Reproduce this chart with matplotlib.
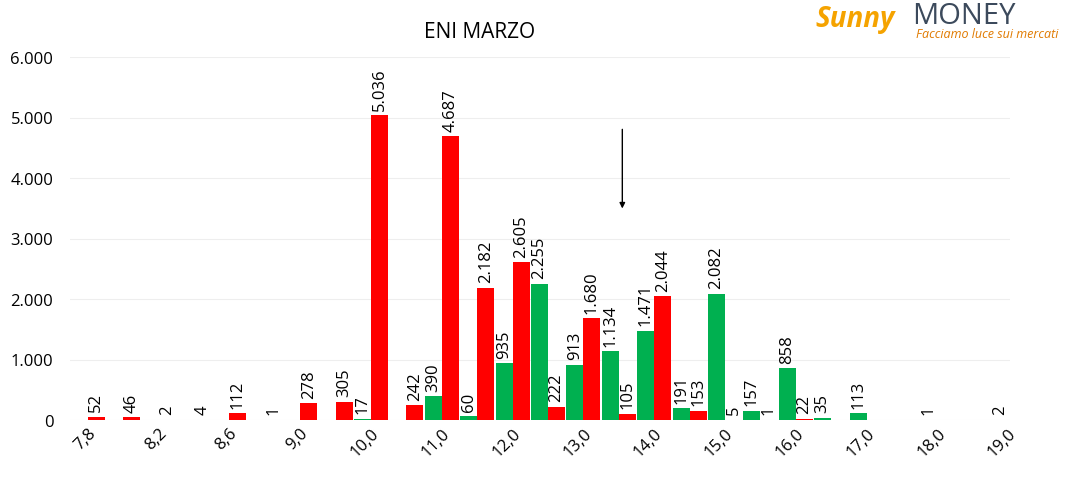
import matplotlib
matplotlib.use("Agg")
import matplotlib.pyplot as plt
import numpy as np

strikes = ["7,8","8,0","8,2","8,4","8,6","8,8","9,0","9,5","10,0","10,5","11,0","11,5","12,0","12,5",
           "13,0","13,5","14,0","14,5","15,0","15,5","16,0","16,5","17,0","17,5","18,0","18,5","19,0"]
green = [0,0,0,0,0,0,0,0,17,0,390,60,935,2255,913,1134,1471,191,2082,157,858,35,113,0,1,0,2]
red = [52,46,2,4,112,1,278,305,5036,242,4687,2182,2605,222,1680,105,2044,153,5,1,22,0,0,0,0,0,0]

plt.rcParams["font.family"] = "Open Sans"
fig = plt.figure(figsize=(10.68, 4.81), dpi=100)
ax = fig.add_axes([70/1068, 60/481, 940/1068, (421-58)/481])
x = np.arange(len(strikes))
w = 0.48
gb = ax.bar(x - w/2, green, w, color="#00B050")
rb = ax.bar(x + w/2, red, w, color="#FF0000")

def fmt(v):
    return f"{v:,}".replace(",", ".")

for bars, vals in ((gb, green), (rb, red)):
    for b, v in zip(bars, vals):
        if v > 0:
            ax.annotate(fmt(v), (b.get_x() + b.get_width()/2, v), xytext=(0, 4),
                        textcoords="offset points", rotation=90, ha="center", va="bottom", fontsize=12)

ax.set_xlim(-0.5, 26.05)
ax.set_ylim(0, 6000)
ax.set_yticks(range(0, 6001, 1000))
ax.set_yticklabels([fmt(v) for v in range(0, 6001, 1000)], fontsize=12)
ax.set_xticks(x[::2])
ax.set_xticklabels(strikes[::2], rotation=45, ha="right", rotation_mode="anchor", fontsize=12)
ax.tick_params(length=0)
ax.tick_params(axis="y", pad=12)
ax.grid(axis="y", color="#EEEEEE", linewidth=0.8)
ax.set_axisbelow(True)
for s in ax.spines.values():
    s.set_visible(False)

ax.annotate("", xy=(15.1, 3450), xytext=(15.1, 4850),
            arrowprops=dict(arrowstyle="-|>", color="black", lw=1, mutation_scale=8))

fig.text(480/1068, 1 - 32/481, "ENI MARZO", ha="center", va="center", fontsize=15)
fig.text(815/1068, 1 - 20/481, "Sunny", ha="left", va="center", fontsize=20, color="#F5A300",
         fontweight="bold", style="italic")
fig.text(912/1068, 1 - 16/481, "MONEY", ha="left", va="center", fontsize=21, color="#3C4A5C")
fig.text(916/1068, 1 - 35/481, "Facciamo luce sui mercati", ha="left", va="center", fontsize=9,
         color="#E07A00", style="italic")

fig.savefig("out.png", dpi=100)
